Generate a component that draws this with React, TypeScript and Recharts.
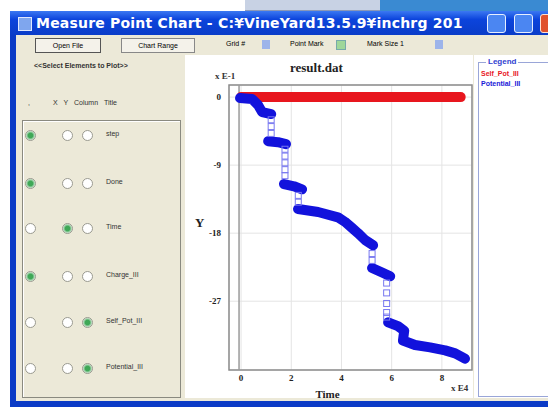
import {
  ComposedChart,
  Line,
  Scatter,
  XAxis,
  YAxis,
  CartesianGrid,
  ReferenceArea,
  ReferenceLine,
} from "recharts";

// axis setup (values in x E4 / x E-1)
const xTicks = [0, 2, 4, 6, 8];
const yTicks = [0, -9, -18, -27];
const xMin = -0.48;
const xMax = 9.2;
const yMin = -36.1;
const yMax = 1.6;

// Self_Pot_III: flat at zero across the run
const selfPotTime = [0, 8.75];
const selfPotValue = [0, 0];

// Potential_III dense runs, null breaks the line between steps
const potTime = [
  -0.04, 0.44, 0.68, 0.84, 1.2, 1.2,
  1.08, 1.47, 1.79, 1.79,
  1.71, 2.11, 2.43, 2.43,
  2.27, 3.07, 3.86, 4.14, 4.42, 4.66, 4.94, 5.26, 5.26,
  5.22, 5.62, 5.94, 5.94,
  5.86, 6.25, 6.5, 6.45, 6.93, 7.53, 8.13, 8.53, 8.92,
];
const potValue = [
  -0.13, -0.26, -1.06, -1.99, -2.25, null,
  -5.83, -5.96, -6.22, null,
  -11.5, -11.8, -12.2, null,
  -14.8, -15.2, -15.9, -16.5, -17.3, -18.0, -18.9, -19.6, null,
  -22.6, -23.2, -23.7, null,
  -29.8, -30.3, -30.9, -32.2, -32.8, -33.1, -33.5, -33.9, -34.6,
];

// Potential_III sparse points in the drops
const potDropTime = [
  1.2, 1.2, 1.2, 1.75, 1.75, 1.75, 1.75, 1.75, 2.28, 2.28, 5.22, 5.22, 5.8, 5.8, 5.8, 5.8, 5.8,
];
const potDropValue = [
  -3.0, -3.9, -4.8, -6.9, -7.8, -8.7, -9.6, -10.4, -13.0, -13.9, -20.7, -21.6, -24.6, -25.9, -27.3, -28.5, -29.1,
];

const columnTitles = ["step", "Done", "Time", "Charge_III", "Self_Pot_III", "Potential_III"];
const plotChecked = [true, true, false, true, false, false];
const xChecked = [false, false, true, false, false, false];
const yChecked = [false, false, false, false, true, true];

const legendNames = ["Self_Pot_III", "Potential_III"];
const legendColors = ["#e8161e", "#1a1ad8"];

const selfPot = selfPotTime.map((t, i) => ({ t, v: selfPotValue[i] }));
const potDense = potTime.map((t, i) => ({ t, v: potValue[i] }));
const potDrop = potDropTime.map((t, i) => ({ t, v: potDropValue[i] }));

const serif = "'Liberation Serif', 'Times New Roman', serif";
const sans = "'Liberation Sans', Arial, sans-serif";

const Radio = ({ x, y, on }: { x: number; y: number; on: boolean }) => (
  <div
    style={{
      position: "absolute",
      left: x - 5,
      top: y - 5,
      width: 9,
      height: 9,
      borderRadius: "50%",
      border: "1px solid #9a9a90",
      background: on ? "radial-gradient(#3fa857 35%, #cfe8d2 70%)" : "#fff",
    }}
  />
);

const DropMark = (props: any) => {
  const { cx, cy } = props;
  if (cx == null || cy == null) return <g />;
  return <rect x={cx - 3} y={cy - 3} width={6} height={6} fill="none" stroke="#7878f0" strokeWidth={1} />;
};

const abs = (s: React.CSSProperties): React.CSSProperties => ({ position: "absolute", ...s });

export default function App() {
  const rowY = [135, 183, 228, 276, 322, 368];
  return (
    <div style={abs({ left: 0, top: 0, width: 548, height: 414, overflow: "hidden", background: "#fff", fontFamily: sans, position: "fixed" })}>
      {/* desktop strip above the window */}
      <div style={abs({ left: 245, top: 0, width: 135, height: 10, background: "#c8d2e4", borderBottom: "1px solid #8a98b8" })} />
      <div style={abs({ left: 380, top: 0, width: 168, height: 12, background: "#3a8ad2" })} />

      {/* window frame */}
      <div style={abs({ left: 10, top: 11, width: 540, height: 396, background: "#0b3bc6" })} />
      <div
        style={abs({
          left: 10,
          top: 11,
          width: 540,
          height: 24,
          background: "linear-gradient(#3b78f2, #0c44dc 35%, #0a3cc8)",
        })}
      />
      <div style={abs({ left: 18, top: 17, width: 12, height: 12, background: "#7fa6ee", border: "1px solid #dfe8ff" })} />
      <div
        style={abs({
          left: 36,
          top: 15,
          color: "#fff",
          fontWeight: "bold",
          fontSize: 14,
          fontFamily: "'DejaVu Sans', sans-serif",
          whiteSpace: "nowrap",
          letterSpacing: 0.2,
        })}
      >
        Measure Point Chart - C:¥VineYard13.5.9¥inchrg 201
      </div>
      <div style={abs({ left: 487, top: 14, width: 17, height: 17, borderRadius: 3, background: "#4b86f2", border: "1px solid #e6eeff" })} />
      <div style={abs({ left: 514, top: 14, width: 17, height: 17, borderRadius: 3, background: "#4b86f2", border: "1px solid #e6eeff" })} />
      <div style={abs({ left: 540, top: 14, width: 17, height: 17, borderRadius: 3, background: "#e0512c", border: "1px solid #ffe0d0" })} />

      {/* client area */}
      <div style={abs({ left: 16, top: 35, width: 532, height: 366, background: "#ece9d8" })} />

      {/* toolbar */}
      <div style={abs({ left: 35, top: 38, width: 64, height: 13, border: "1px solid #555", background: "#f4f2ea", fontSize: 7, textAlign: "center", lineHeight: "13px" })}>
        Open File
      </div>
      <div style={abs({ left: 121, top: 38, width: 72, height: 13, border: "1px solid #888", background: "#f4f2ea", fontSize: 7, textAlign: "center", lineHeight: "13px" })}>
        Chart Range
      </div>
      <div style={abs({ left: 226, top: 40, fontSize: 7 })}>Grid #</div>
      <div style={abs({ left: 262, top: 40, width: 8, height: 9, background: "#9db4ea" })} />
      <div style={abs({ left: 290, top: 40, fontSize: 7 })}>Point Mark</div>
      <div style={abs({ left: 336, top: 40, width: 8, height: 8, background: "#9fd79a", border: "1px solid #7aa" })} />
      <div style={abs({ left: 367, top: 40, fontSize: 7 })}>Mark Size 1</div>
      <div style={abs({ left: 435, top: 40, width: 8, height: 9, background: "#9db4ea" })} />

      {/* left selection panel */}
      <div style={abs({ left: 34, top: 62, fontSize: 7, fontWeight: "bold", color: "#333" })}>&lt;&lt;Select Elements to Plot&gt;&gt;</div>
      <div style={abs({ left: 28, top: 99, fontSize: 7, color: "#333" })}>,</div>
      <div style={abs({ left: 53, top: 99, fontSize: 7, color: "#333", wordSpacing: 4 })}>X Y Column Title</div>
      <div style={abs({ left: 22, top: 120, width: 157, height: 276, border: "1px solid #8a8a80", boxShadow: "inset 1px 1px 0 #fff" })} />
      {columnTitles.map((name, i) => (
        <div key={name}>
          <Radio x={30} y={rowY[i]} on={plotChecked[i]} />
          <Radio x={67} y={rowY[i]} on={xChecked[i]} />
          <Radio x={87} y={rowY[i]} on={yChecked[i]} />
          <div style={abs({ left: 106, top: rowY[i] - 5, fontSize: 7, color: "#333" })}>{name}</div>
        </div>
      ))}

      {/* chart panel */}
      <div style={abs({ left: 185, top: 55, width: 288, height: 343, background: "#fff" })} />
      <div style={abs({ left: 474, top: 55, width: 74, height: 343, background: "#fff" })} />

      <div style={abs({ left: 185, top: 55 })}>
        <ComposedChart width={290} height={345} margin={{ top: 30, right: 3, left: 0, bottom: 0 }}>
          <CartesianGrid stroke="#e4e4e4" strokeWidth={1} />
          <XAxis
            dataKey="t"
            type="number"
            domain={[xMin, xMax]}
            ticks={xTicks}
            allowDataOverflow
            height={30}
            tickLine={false}
            axisLine={false}
            tickSize={3}
            tick={{ fontSize: 9, fontFamily: serif, fontWeight: "bold", fill: "#222" }}
            label={{ value: "Time", position: "insideBottom", offset: 2, dx: -23, fontSize: 11, fontFamily: serif, fontWeight: "bold", fill: "#222" }}
          />
          <YAxis
            dataKey="v"
            type="number"
            domain={[yMin, yMax]}
            ticks={yTicks}
            allowDataOverflow
            width={44}
            tickLine={false}
            axisLine={false}
            tick={{ fontSize: 9, fontFamily: serif, fontWeight: "bold", fill: "#222" }}
            label={{ value: "Y", position: "insideLeft", offset: 10, dy: -5, fontSize: 13, fontFamily: serif, fontWeight: "bold", fill: "#222" }}
          />
          <ReferenceArea x1={xMin} x2={xMax} y1={yMin} y2={yMax} fill="none" stroke="#8c8c8c" strokeWidth={1.5} />
          <ReferenceLine x={-0.08} stroke="#9a9a9a" strokeWidth={1.5} />
          <Line
            data={selfPot}
            dataKey="v"
            stroke={legendColors[0]}
            strokeWidth={10}
            strokeLinecap="round"
            dot={false}
            activeDot={false}
            isAnimationActive={false}
          />
          <Scatter data={potDrop} dataKey="v" shape={DropMark} isAnimationActive={false} />
          <Line
            data={potDense}
            dataKey="v"
            stroke="#1212dc"
            strokeWidth={10}
            strokeLinejoin="round"
            strokeLinecap="round"
            dot={false}
            activeDot={false}
            connectNulls={false}
            isAnimationActive={false}
          />
        </ComposedChart>
      </div>

      <div style={abs({ left: 290, top: 60, fontSize: 13, fontFamily: serif, fontWeight: "bold", color: "#222" })}>result.dat</div>
      <div style={abs({ left: 215, top: 71, fontSize: 9, fontFamily: serif, fontWeight: "bold", color: "#333" })}>x E-1</div>
      <div style={abs({ left: 451, top: 383, fontSize: 9, fontFamily: serif, fontWeight: "bold", color: "#333" })}>x E4</div>

      {/* legend panel */}
      <div style={abs({ left: 478, top: 62, width: 80, height: 333, border: "1px solid #9aa6d8", borderRight: "none" })} />
      <div style={abs({ left: 486, top: 57, fontSize: 8, fontWeight: "bold", color: "#2f3fd0", background: "#fff", padding: "0 2px" })}>Legend</div>
      {legendNames.map((name, i) => (
        <div key={name} style={abs({ left: 481, top: 70 + i * 10, fontSize: 7, fontWeight: "bold", color: legendColors[i] })}>
          {name}
        </div>
      ))}

      {/* bottom window border */}
      <div style={abs({ left: 10, top: 401, width: 540, height: 6, background: "#0b3bc6" })} />
    </div>
  );
}
